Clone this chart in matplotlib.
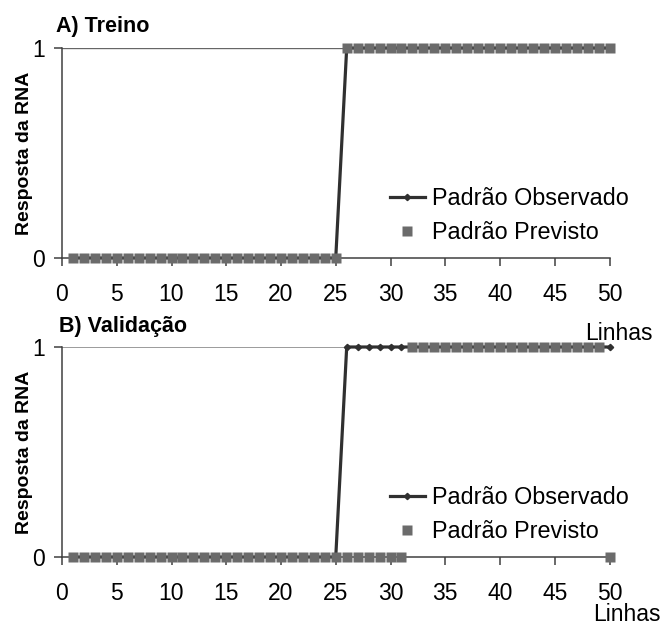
import numpy as np
import matplotlib
matplotlib.use('Agg')
import matplotlib.pyplot as plt

plt.rcParams['font.family'] = ['Liberation Sans', 'DejaVu Sans']

# linhas 1..50
linhas = list(range(1, 51))

# A) Treino
obs_treino = [0]*25 + [1]*25
prev_treino = [0]*25 + [1]*25

# B) Validacao
obs_valid = [0]*25 + [1]*25
prev_valid = [0]*31 + [1]*18 + [0]

x_ticks = list(range(0, 51, 5))
y_ticks = [0, 1]

W, H = 664, 628
fig = plt.figure(figsize=(W/100, H/100), dpi=100)

axes_px = [(62, 258), (62, 557)]  # left, bottom (pixels from top)
ax_w, ax_h = 547.5, 210

fs = 16.5
axcol = '#404040'


def draw_panel(ax, obs, prev, grid_lw, grid_col):
    ax.plot(linhas, obs, color='#303030', lw=2.3, marker='D', ms=3.2,
            clip_on=False, zorder=3, label='Padrão Observado')
    ax.plot(linhas, prev, ls='none', marker='s', ms=7.0, color='#6b6b6b',
            mec='none', clip_on=False, zorder=4, label='Padrão Previsto')
    ax.set_xlim(0, 50)
    ax.set_ylim(0, 1)
    ax.set_xticks(x_ticks)
    ax.set_yticks(y_ticks)
    ax.tick_params(axis='both', labelsize=fs, color=axcol, width=1.1,
                   length=5.5, direction='out')
    ax.tick_params(axis='x', pad=12.5)
    ax.tick_params(axis='y', pad=7)
    for s in ['top', 'right']:
        ax.spines[s].set_visible(False)
    for s in ['left', 'bottom']:
        ax.spines[s].set_color(axcol)
        ax.spines[s].set_linewidth(1.1)
    ax.axhline(1, color=grid_col, lw=grid_lw, zorder=1)
    ax.set_ylabel('Resposta da RNA', fontsize=14, fontweight='bold')
    ax.yaxis.set_label_coords(-0.053, 0.5)
    ax.legend(loc='center left', bbox_to_anchor=(0.599, 0.2024),
              frameon=False, fontsize=16.8, handlelength=1.5,
              handletextpad=0.3, labelspacing=0.45, borderpad=0,
              borderaxespad=0)


for (l, b), obs, prev, glw, gcol in zip(axes_px, [obs_treino, obs_valid],
                                         [prev_treino, prev_valid],
                                         [1.7, 1.1], ['#666666', '#808080']):
    ax = fig.add_axes([l/W, 1 - b/H, ax_w/W, ax_h/H])
    draw_panel(ax, obs, prev, glw, gcol)

fig.text(56/W, 1 - 32/H, 'A) Treino', fontsize=15.5, fontweight='bold',
         va='baseline', ha='left')
fig.text(59/W, 1 - 332/H, 'B) Validação', fontsize=15.5, fontweight='bold',
         va='baseline', ha='left')
fig.text(585/W, 1 - 340/H, 'Linhas', fontsize=fs, va='baseline', ha='left')
fig.text(593/W, 1 - 621/H, 'Linhas', fontsize=fs, va='baseline', ha='left')

fig.savefig('out.png', dpi=100)
